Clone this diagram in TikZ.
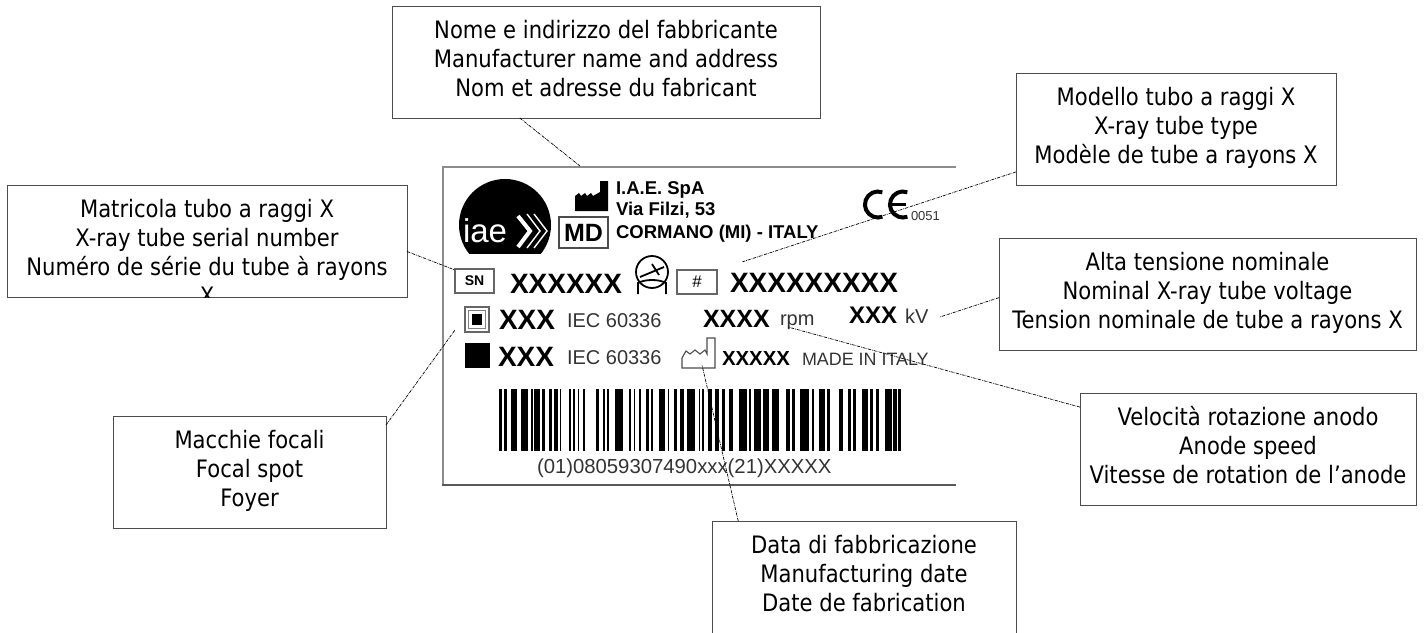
\documentclass[tikz,border=0pt]{standalone}
\usepackage{fontspec}
\usetikzlibrary{positioning}
\newfontfamily\arialfont{Liberation Sans}
\newfontfamily\callfont{DejaVu Sans}[FakeStretch=0.88]
\newcommand{\sz}[1]{\fontsize{#1}{#1}\selectfont}
\tikzset{
	callout/.style={rectangle, draw=black!70, line width=1pt, fill=white, minimum height=112pt, text depth=8pt, inner sep=0pt, outer sep=0pt, align=center, font=\callfont\fontsize{24}{29}\selectfont},
	leader/.style={black, line width=0.7pt, densely dashdotted}
}
\begin{document}
\begin{tikzpicture}[
	x=1pt, y=-1pt,
	% --- Style Definitions ---
	plate/.style={anchor=base west, inner sep=0pt, outer sep=0pt, font=\arialfont},
	bigcode/.style={plate, font=\arialfont\bfseries\sz{28}},
	midtext/.style={plate, text=black!80, font=\arialfont\sz{20}},
	tag/.style={rectangle, draw=black!60, line width=1.2pt, inner sep=0pt, outer sep=0pt, font=\arialfont},
	]
	\useasboundingbox (0,0) rectangle (1426,632);
	
	% --- Plate Frame ---
	\draw[line width=2.4pt, black!45] (956,167) -- (443,167) -- (443,485);
	\draw[line width=2pt, black!65] (442,485) -- (956,485);
	
	% --- Logo ---
	\begin{scope}
		\clip (450,170) rectangle (560,253);
		\fill (505,225) circle[radius=46pt];
	\end{scope}
	\node[plate, text=white, font=\arialfont\sz{33}] (logotext) at (463,242) {iae};
	\draw[white, line width=4pt] (518,216) -- (530,231) -- (518,247);
	\draw[white, line width=1.4pt] (527,214) -- (540,231) -- (527,248);
	\draw[white, line width=1.4pt] (534,214) -- (547,231) -- (534,248);
	
	% --- Manufacturer ---
	\fill (575,211) -- (575,196) -- (579,193) -- (581,196) -- (585,193) -- (587,196) -- (591,193) -- (593,196) -- (600,192) -- (600,181) -- (608,181) -- (608,211) -- cycle;
	\node[tag, draw=black!70, minimum width=49pt, minimum height=31pt, font=\arialfont\bfseries\sz{25}] (mdbox) at (583.5,232.5) {MD};
	\node[plate, font=\arialfont\bfseries\sz{18.5}] (maker1) at (616,194) {I.A.E. SpA};
	\node[plate, font=\arialfont\bfseries\sz{18.5}] (maker2) at (616,215) {Via Filzi, 53};
	\node[plate, font=\arialfont\bfseries\sz{18.5}] (maker3) at (616,238) {CORMANO (MI) - ITALY};
	
	% --- CE Mark ---
	\draw[line width=4pt] (882.4,192.3) arc[start angle=-70, end angle=-290, radius=13];
	\draw[line width=4pt] (907.4,192.3) arc[start angle=-70, end angle=-290, radius=13];
	\draw[line width=3.4pt] (890,204.5) -- (906,204.5);
	\node[plate, text=black!80, font=\arialfont\sz{13}] (notified) at (911,220) {0051};
	
	% --- Serial Row ---
	\node[tag, minimum width=39pt, minimum height=24pt, font=\arialfont\bfseries\sz{14}] (snbox) at (474.5,281) {SN};
	\node[bigcode] (serialcode) at (510,293) {XXXXXX};
	\draw[line width=1.8pt] (652,272) circle[radius=16pt];
	\draw[line width=1.8pt] (640,277) -- (664,267);
	\draw[line width=1.8pt] (652,264) -- (659,275);
	\draw[line width=1.8pt] (638,294) -- (638,283) .. controls (645,279) and (659,279) .. (666,283) -- (666,294);
	\node[tag, minimum width=40pt, minimum height=24pt, font=\arialfont\sz{17}] (typebox) at (697,282) {\#};
	\node[bigcode] (typecode) at (730,292) {XXXXXXXXX};
	
	% --- Focal Spot Rows ---
	\draw[line width=1.2pt, black!60] (465,307) rectangle (489,332);
	\draw[line width=1pt, black!50] (468.5,310.5) rectangle (485.5,328.5);
	\fill (472,314) rectangle (482,325);
	\node[bigcode] (largecode) at (499,329) {XXX};
	\node[midtext] (largeiec) at (567,327) {IEC 60336};
	\node[bigcode, font=\arialfont\bfseries\sz{25}] (speedcode) at (703,327) {XXXX};
	\node[midtext] (speedunit) at (780,325) {rpm};
	\node[bigcode, font=\arialfont\bfseries\sz{24}] (voltcode) at (849,323) {XXX};
	\node[midtext] (voltunit) at (905,323) {kV};
	\fill (465,343) rectangle (490,368);
	\node[bigcode] (smallcode) at (498,366) {XXX};
	\node[midtext] (smalliec) at (567,364) {IEC 60336};
	\draw[line width=1.1pt, black!70] (682,368) -- (682,358) -- (686,351) -- (690,354) -- (695,350) -- (700,354) -- (705,350) -- (707,354) -- (707,338) -- (715,338) -- (715,368) -- cycle;
	\node[bigcode, font=\arialfont\bfseries\sz{20.4}] (datecode) at (722,365) {XXXXX};
	\node[midtext, font=\arialfont\sz{17.9}] (madein) at (802,365) {MADE IN ITALY};
	
	% --- Barcode ---
	\foreach \a/\b in {499.3/502, 504/507.3, 510.7/517.3, 520.7/528, 530.7/532.7, 534/540, 542/544.7, 549.3/552, 554/558, 560/561.3, 569.3/571.3, 573.3/575.3, 578/579.3, 582.7/584.7, 596/599.3, 602.7/604.7, 606.7/609.3, 615.3/622.7, 628.7/631.3, 634/635.3, 639.3/641.3, 646/648.7, 650.7/653.3, 658.7/664.7, 668/669.3, 674/676.7, 680/684, 686.7/695.3, 698.7/700, 702/704, 708/712, 714.7/719.3, 722/724.7, 728.7/732.7, 739.3/746.7, 749.3/751.3, 754/761.3, 763.3/768.7, 772/778.7, 786/790, 792/795.3, 800/808.7, 812/814, 818.7/824.7, 827.3/830, 838.7/843.3, 848/851.3, 853.3/856, 861.7/867.7, 870/873.3, 876/879, 885/891.7, 893.3/896.7, 898.3/900.7} {
		\fill (\a,389) rectangle (\b,451);
	}
	\node[midtext, font=\arialfont\sz{20.3}] (barcodetext) at (537,473) {(01)08059307490xxx(21)XXXXX};
	
	% --- Callout Boxes ---
	\node[callout, minimum width=428pt] (maker) at (606,62) {Nome e indirizzo del fabbricante\\Manufacturer name and address\\Nom et adresse du fabricant};
	\node[callout, minimum width=320pt] (model) at (1176,129) {Modello tubo a raggi X\\X-ray tube type\\Modèle de tube a rayons X};
	\node[callout, minimum width=417pt] (voltage) at (1207.5,294) {Alta tensione nominale\\Nominal X-ray tube voltage\\Tension nominale de tube a rayons X};
	\node[callout, minimum width=336pt] (speed) at (1248,449) {Velocità rotazione anodo\\Anode speed\\Vitesse de rotation de l’anode};
	\node[callout, minimum width=304pt] (date) at (864,577) {Data di fabbricazione\\Manufacturing date\\Date de fabrication};
	\node[callout, minimum width=273pt] (focal) at (249.5,472) {Macchie focali\\Focal spot\\Foyer};
	% serial box: last line runs past the bottom edge
	\node[callout, minimum width=400pt] (serial) at (207,241) {};
	\begin{scope}
		\clip (serial.south west) rectangle (serial.north east);
		\node[callout, draw=none, fill=none, anchor=north] (serialtext) at (207,199) {Matricola tubo a raggi X\\X-ray tube serial number\\Numéro de série du tube à rayons\\X};
	\end{scope}
	
	% --- Leader Lines ---
	\coordinate (makerend) at (580,166);
	\coordinate (modelend) at (742,262);
	\coordinate (voltend) at (940,317);
	\coordinate (speedend) at (788,327);
	\coordinate (dateend) at (702,365);
	\coordinate (focalend) at (455,330);
	\coordinate (serialend) at (455,270);
	\draw[leader] (maker.213.7) -- (makerend);
	\draw[leader] (model.195.7) -- (modelend);
	\draw[leader] (voltage.181.4) -- (voltend);
	\draw[leader] (speed.166.3) -- (speedend);
	\draw[leader] (date.156.3) -- (dateend);
	\draw[leader] (focal.19.7) -- (focalend);
	\draw[leader] (serial.-3.4) -- (serialend);
	
\end{tikzpicture}
\end{document}
